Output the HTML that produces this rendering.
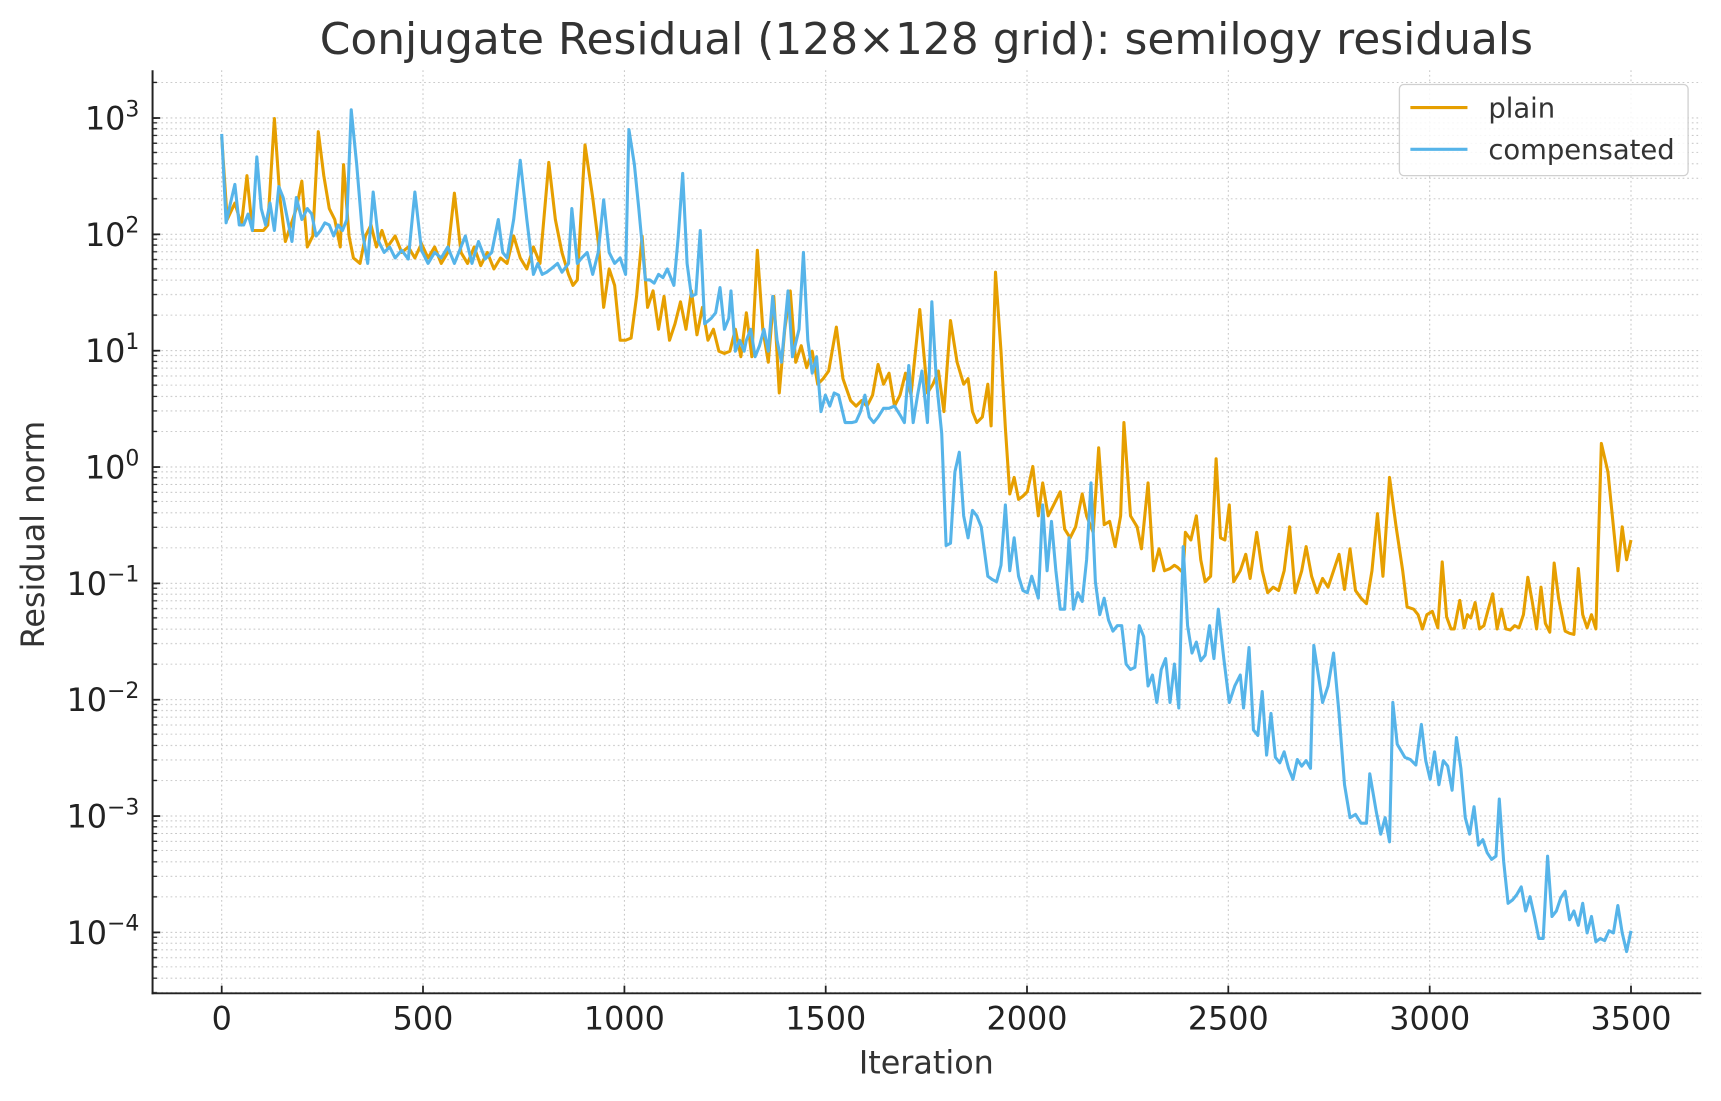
<!DOCTYPE html>
<html><head><meta charset="utf-8"><style>
html,body{margin:0;padding:0;background:#fff;}
svg{display:block;}
text{font-family:"DejaVu Sans","Liberation Sans",sans-serif;}
</style></head><body>
<svg width="1721" height="1101" viewBox="0 0 1568 1003.1" xmlns="http://www.w3.org/2000/svg">
<defs>
<pattern id="ygrid" patternUnits="userSpaceOnUse" x="0" y="107" width="1568" height="106">
<g stroke="#c4c4c4" stroke-width="0.9" stroke-dasharray="1.6 2.6">
<line x1="0" x2="1568" y1="0.5" y2="0.5"/>
<line x1="0" x2="1568" y1="4.9" y2="4.9"/>
<line x1="0" x2="1568" y1="10.3" y2="10.3"/>
<line x1="0" x2="1568" y1="16.4" y2="16.4"/>
<line x1="0" x2="1568" y1="23.5" y2="23.5"/>
<line x1="0" x2="1568" y1="31.9" y2="31.9"/>
<line x1="0" x2="1568" y1="42.2" y2="42.2"/>
<line x1="0" x2="1568" y1="55.4" y2="55.4"/>
<line x1="0" x2="1568" y1="74.1" y2="74.1"/>
</g></pattern>
<pattern id="yticks" patternUnits="userSpaceOnUse" x="0" y="107" width="20" height="106">
<g stroke="#222" stroke-width="1.2">
<line x1="0" x2="20" y1="0.5" y2="0.5" stroke-width="1.6"/>
<line x1="0" x2="20" y1="4.9" y2="4.9"/>
<line x1="0" x2="20" y1="10.3" y2="10.3"/>
<line x1="0" x2="20" y1="16.4" y2="16.4"/>
<line x1="0" x2="20" y1="23.5" y2="23.5"/>
<line x1="0" x2="20" y1="31.9" y2="31.9"/>
<line x1="0" x2="20" y1="42.2" y2="42.2"/>
<line x1="0" x2="20" y1="55.4" y2="55.4"/>
<line x1="0" x2="20" y1="74.1" y2="74.1"/>
</g></pattern>
<clipPath id="plot"><rect x="139" y="64" width="1411" height="841"/></clipPath>
</defs>

<rect x="139" y="64" width="1411" height="841" fill="url(#ygrid)"/>
<g stroke="#c4c4c4" stroke-width="0.9" stroke-dasharray="1.6 2.6">
<line x1="202" x2="202" y1="64" y2="905"/>
<line x1="385.4" x2="385.4" y1="64" y2="905"/>
<line x1="568.9" x2="568.9" y1="64" y2="905"/>
<line x1="752.3" x2="752.3" y1="64" y2="905"/>
<line x1="935.7" x2="935.7" y1="64" y2="905"/>
<line x1="1119.1" x2="1119.1" y1="64" y2="905"/>
<line x1="1302.6" x2="1302.6" y1="64" y2="905"/>
<line x1="1486" x2="1486" y1="64" y2="905"/>
</g>

<rect x="139" y="64" width="4" height="841" fill="url(#yticks)"/>
<g stroke="#222" stroke-width="1.6">
<line x1="139" x2="146" y1="107.5" y2="107.5"/>
<line x1="139" x2="146" y1="213.5" y2="213.5"/>
<line x1="139" x2="146" y1="319.5" y2="319.5"/>
<line x1="139" x2="146" y1="425.5" y2="425.5"/>
<line x1="139" x2="146" y1="531.5" y2="531.5"/>
<line x1="139" x2="146" y1="637.5" y2="637.5"/>
<line x1="139" x2="146" y1="743.5" y2="743.5"/>
<line x1="139" x2="146" y1="849.5" y2="849.5"/>
<line x1="202" x2="202" y1="905" y2="898"/>
<line x1="385.4" x2="385.4" y1="905" y2="898"/>
<line x1="568.9" x2="568.9" y1="905" y2="898"/>
<line x1="752.3" x2="752.3" y1="905" y2="898"/>
<line x1="935.7" x2="935.7" y1="905" y2="898"/>
<line x1="1119.1" x2="1119.1" y1="905" y2="898"/>
<line x1="1302.6" x2="1302.6" y1="905" y2="898"/>
<line x1="1486" x2="1486" y1="905" y2="898"/>
</g>

<g clip-path="url(#plot)" fill="none" stroke-width="2.8" stroke-linejoin="round">
<polyline stroke="#E69F00" points="202,125 207,200 214,185 220,205 225,160 230,210 240,210 244,205 250,108 255,180 260,220 265,205 270,190 275,165 280,225 285,215 290,120 295,160 300,190 305,200 310,225 313,150 318,215 322,235 328,240 333,215 338,205 343,225 348,210 353,225 360,215 366,230 372,225 378,235 384,222 390,235 396,225 402,240 408,230 414,176 420,230 426,240 432,225 438,242 444,230 450,245 456,235 462,240 468,215 474,235 480,245 486,225 492,240 500,148 506,200 512,230 518,250 522,260 526,255 533,132 540,180 545,220 550,280 555,245 560,260 565,310 570,310 575,308 580,270 585,215 590,280 595,265 600,300 605,270 610,310 615,295 620,275 625,300 630,265 635,305 640,280 645,310 650,300 655,320 660,322 665,320 670,300 675,325 680,285 685,325 690,228 695,300 700,330 705,270 710,358 715,300 720,265 725,330 730,315 735,335 740,320 745,350 750,345 755,338 762,298 768,345 775,365 780,370 785,365 790,370 795,360 800,332 805,350 810,340 815,370 820,360 825,340 830,360 838,282 845,358 850,350 855,338 860,375 866,292 872,330 878,350 882,345 886,375 890,385 895,380 900,350 903,388 907,248 912,320 916,390 920,450 924,435 928,455 932,452 936,448 941,425 946,470 950,440 955,470 960,460 966,448 970,482 975,490 980,480 986,450 990,470 996,485 1001,408 1006,478 1011,475 1016,498 1021,470 1024,385 1030,470 1036,480 1040,500 1046,440 1051,520 1056,500 1061,520 1066,518 1070,515 1073,517 1078,522 1080,485 1085,492 1090,470 1094,510 1098,530 1103,525 1108,418 1112,490 1116,492 1120,460 1124,530 1130,520 1135,505 1139,527 1145,485 1150,520 1155,540 1160,535 1165,538 1170,520 1175,480 1180,540 1186,520 1190,498 1195,525 1200,540 1205,527 1210,535 1215,520 1220,505 1225,537 1230,500 1235,538 1240,545 1245,550 1250,520 1255,468 1260,525 1266,435 1272,480 1278,520 1282,553 1288,555 1292,560 1296,573 1300,560 1305,557 1310,572 1314,512 1318,562 1322,573 1325,573 1330,547 1334,572 1337,560 1340,563 1344,549 1348,573 1352,570 1356,555 1360,541 1364,573 1368,555 1372,573 1376,574 1380,570 1384,572 1388,560 1392,526 1396,548 1400,573 1404,535 1408,568 1412,576 1416,513 1420,545 1426,575 1430,577 1434,578 1438,518 1442,560 1446,572 1450,560 1454,573 1459,404 1465,430 1470,480 1474,520 1478,480 1482,510 1486,492"/>
<polyline stroke="#56B4E9" points="202,122 206,203 210,185 214,168 218,205 222,205 226,195 230,210 234,143 238,190 242,205 246,185 250,210 254,170 258,180 262,200 266,220 270,180 275,200 280,190 284,195 288,215 292,210 296,203 300,205 304,215 308,205 312,210 316,200 320,100 325,150 330,210 335,240 340,175 345,220 350,230 355,225 360,235 366,228 372,236 378,175 384,228 390,240 396,230 402,235 408,225 414,240 420,225 424,215 430,240 436,220 442,236 448,230 454,200 458,230 462,235 468,200 474,146 480,200 486,250 490,240 494,250 498,248 502,245 508,240 512,248 518,240 521,190 526,240 530,235 535,230 540,250 545,230 550,182 555,230 560,240 565,235 570,250 573,118 578,150 582,190 588,255 592,255 596,258 600,250 604,253 608,245 614,260 618,215 622,158 626,240 630,270 634,268 638,210 642,295 648,290 652,285 656,262 660,300 664,290 666,265 670,320 674,310 678,320 680,310 684,300 688,325 692,315 696,300 700,320 704,270 708,310 712,330 718,265 722,325 728,300 732,230 736,310 740,340 744,325 748,375 752,360 756,370 760,358 764,360 770,385 776,385 780,384 784,375 788,360 792,380 796,385 800,380 805,372 810,372 815,370 820,378 824,385 828,333 832,385 836,360 840,338 845,385 849,275 853,345 858,395 862,497 866,495 870,430 874,412 878,470 882,490 886,465 890,470 894,480 900,525 904,528 908,530 912,515 916,460 920,520 924,490 928,525 932,538 936,540 940,525 946,545 950,460 954,520 958,475 962,520 966,555 970,555 974,490 978,555 982,540 986,548 990,510 994,440 998,530 1002,560 1006,545 1010,565 1014,575 1018,570 1022,570 1026,605 1030,610 1034,608 1038,570 1042,580 1046,625 1050,615 1054,640 1058,610 1062,600 1066,640 1070,605 1074,645 1078,498 1082,570 1086,595 1090,585 1094,602 1098,597 1102,570 1106,600 1110,555 1115,600 1120,640 1125,625 1130,615 1133,645 1138,590 1142,665 1146,670 1150,630 1154,688 1158,650 1162,690 1166,695 1170,685 1174,700 1178,710 1182,692 1186,698 1190,693 1194,700 1197,588 1205,640 1210,625 1215,595 1220,650 1225,715 1230,745 1235,742 1240,750 1245,750 1248,705 1254,740 1258,760 1262,745 1266,767 1269,640 1273,678 1280,690 1285,692 1290,697 1295,660 1299,693 1303,710 1307,685 1311,715 1315,693 1319,698 1323,720 1327,672 1331,700 1335,745 1339,760 1343,735 1347,770 1351,765 1355,777 1359,783 1363,780 1366,728 1370,785 1374,823 1378,820 1382,815 1386,808 1390,830 1394,817 1398,835 1402,855 1406,855 1410,780 1414,835 1418,830 1422,818 1426,812 1430,838 1434,830 1438,843 1442,823 1446,850 1450,835 1454,858 1458,855 1462,857 1466,848 1470,850 1474,825 1478,850 1482,867 1486,848"/>
</g>

<g stroke="#222" stroke-width="1.8">
<line x1="139" x2="139" y1="64" y2="905.9"/>
<line x1="138.1" x2="1550" y1="905" y2="905"/>
</g>

<g fill="#222" font-size="29" text-anchor="middle">
<text x="202" y="938">0</text>
<text x="385.4" y="938">500</text>
<text x="568.9" y="938">1000</text>
<text x="752.3" y="938">1500</text>
<text x="935.7" y="938">2000</text>
<text x="1119.1" y="938">2500</text>
<text x="1302.6" y="938">3000</text>
<text x="1486" y="938">3500</text>
</g>
<g fill="#222" font-size="29" text-anchor="end">
<text x="127" y="118">10<tspan dy="-12" font-size="20">3</tspan></text>
<text x="127" y="224">10<tspan dy="-12" font-size="20">2</tspan></text>
<text x="127" y="330">10<tspan dy="-12" font-size="20">1</tspan></text>
<text x="127" y="436">10<tspan dy="-12" font-size="20">0</tspan></text>
<text x="127" y="542">10<tspan dy="-12" font-size="20">−1</tspan></text>
<text x="127" y="648">10<tspan dy="-12" font-size="20">−2</tspan></text>
<text x="127" y="754">10<tspan dy="-12" font-size="20">−3</tspan></text>
<text x="127" y="860">10<tspan dy="-12" font-size="20">−4</tspan></text>
</g>

<text x="844" y="49" font-size="40" fill="#333" text-anchor="middle">Conjugate Residual (128×128 grid): semilogy residuals</text>
<text x="844" y="978" font-size="29" fill="#333" text-anchor="middle">Iteration</text>
<text transform="translate(40,487) rotate(-90)" font-size="29" fill="#333" text-anchor="middle">Residual norm</text>

<rect x="1275" y="77" width="263" height="83" rx="4" fill="#fff" fill-opacity="0.85" stroke="#d0d0d0" stroke-width="1.2"/>
<line x1="1285" x2="1337" y1="98" y2="98" stroke="#E69F00" stroke-width="2.8"/>
<line x1="1285" x2="1337" y1="136" y2="136" stroke="#56B4E9" stroke-width="2.8"/>
<text x="1356" y="107" font-size="25" fill="#333">plain</text>
<text x="1356" y="145" font-size="25" fill="#333">compensated</text>
</svg>
</body></html>
